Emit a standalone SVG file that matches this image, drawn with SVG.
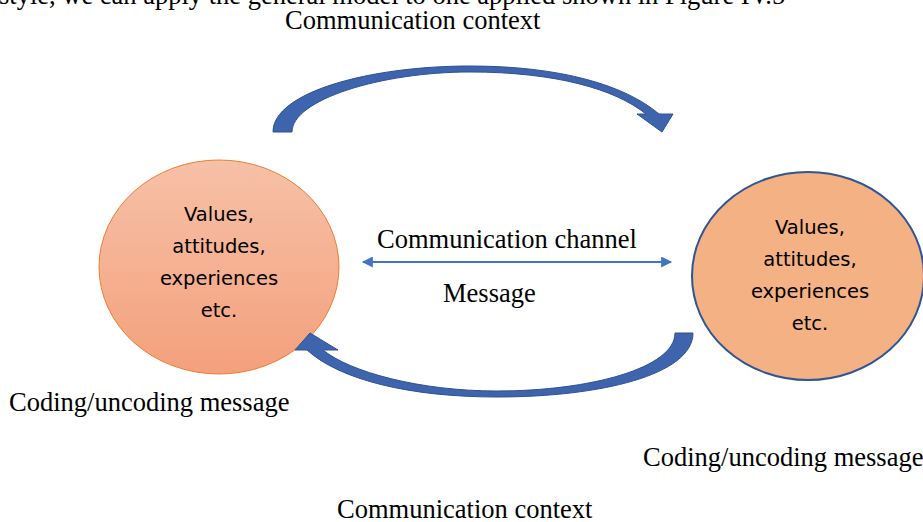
<svg xmlns="http://www.w3.org/2000/svg" width="923" height="522" viewBox="0 0 923 522">
<style>
.t{font-family:"Liberation Serif","Times New Roman",serif;font-size:26.5px;fill:#000}
.c{font-family:"DejaVu Sans","Noto Sans",sans-serif;font-size:19.5px;fill:#000;text-anchor:middle}
.band{fill:#3D64AC;stroke:#2F528F;stroke-width:1}
</style>
<defs>
<linearGradient id="g1" x1="0" y1="0" x2="0" y2="1">
<stop offset="0" stop-color="#F6C1A7"/>
<stop offset="1" stop-color="#F4A07C"/>
</linearGradient>
<marker id="ah" viewBox="0 0 10 10" refX="9" refY="5" markerWidth="6" markerHeight="5.5" orient="auto-start-reverse">
<path d="M0,0 L10,5 L0,10 Z" fill="#4472C4"/>
</marker>
</defs>
<text class="t" x="-1" y="4">style, we can apply the general model to one applied shown in Figure IV.5</text>
<text class="t" x="285" y="29">Communication context</text>
<g id="node-left">
<ellipse cx="219" cy="267" rx="120" ry="107" fill="url(#g1)" stroke="#ED7D31" stroke-width="1"/>
<text class="c" x="219" y="221">Values,</text>
<text class="c" x="219" y="253">attitudes,</text>
<text class="c" x="219" y="285">experiences</text>
<text class="c" x="219" y="317">etc.</text>
</g>
<g id="node-right">
<ellipse cx="808" cy="276" rx="116" ry="104" fill="#F4B183" stroke="#2F5597" stroke-width="2"/>
<text class="c" x="810" y="234">Values,</text>
<text class="c" x="810" y="266">attitudes,</text>
<text class="c" x="810" y="298">experiences</text>
<text class="c" x="810" y="330">etc.</text>
</g>
<g id="connectors">
<path class="band" d="M273,132 C273,92 370,66 470,66 C560,66 625,85 659,114 L673,114 L662,132 L637,114 L646,114 C615,89 555,72 470,72 C380,72 292,100 292,132 Z"/>
<path class="band" d="M693,333 C693,375 600,397 497,397 C410,397 340,380 307,350 L295,350 L310,333 L338,350 L323,350 C350,372 420,391 497,391 C590,391 675,368 675,333 Z"/>
<line x1="363" y1="262" x2="671" y2="262" stroke="#4472C4" stroke-width="2" marker-start="url(#ah)" marker-end="url(#ah)"/>
</g>
<text class="t" x="377" y="248">Communication channel</text>
<text class="t" x="443" y="302">Message</text>
<text class="t" x="9" y="411">Coding/uncoding message</text>
<text class="t" x="643" y="466">Coding/uncoding message</text>
<text class="t" x="337" y="518">Communication context</text>
</svg>
